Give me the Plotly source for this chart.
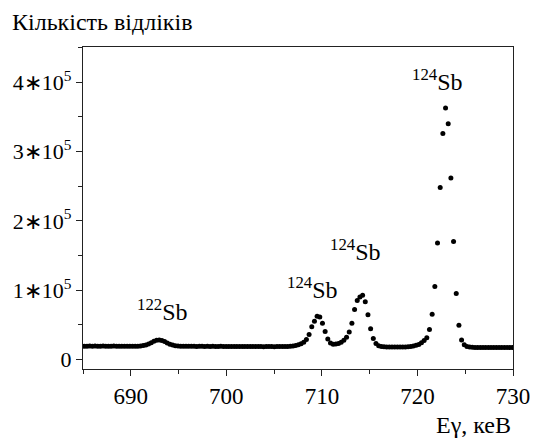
import plotly.graph_objects as go

energy_kev = [
    685.14, 685.42, 685.70, 685.98, 686.26, 686.54, 686.82, 687.10, 687.38, 687.66,
    687.94, 688.22, 688.50, 688.78, 689.06, 689.34, 689.62, 689.90, 690.18, 690.46,
    690.74, 691.02, 691.30, 691.58, 691.86, 692.14, 692.42, 692.70, 692.98, 693.26,
    693.54, 693.82, 694.10, 694.38, 694.66, 694.94, 695.22, 695.50, 695.78, 696.06,
    696.34, 696.62, 696.90, 697.18, 697.46, 697.74, 698.02, 698.30, 698.58, 698.86,
    699.14, 699.42, 699.70, 699.98, 700.26, 700.54, 700.82, 701.10, 701.38, 701.66,
    701.94, 702.22, 702.50, 702.78, 703.06, 703.34, 703.62, 703.90, 704.18, 704.46,
    704.74, 705.02, 705.30, 705.58, 705.86, 706.14, 706.42, 706.70, 706.98, 707.26,
    707.54, 707.82, 708.10, 708.38, 708.66, 708.94, 709.22, 709.50, 709.78, 710.06,
    710.34, 710.62, 710.90, 711.18, 711.46, 711.74, 712.02, 712.30, 712.58, 712.86,
    713.14, 713.42, 713.70, 713.98, 714.26, 714.54, 714.82, 715.10, 715.38, 715.66,
    715.94, 716.22, 716.50, 716.78, 717.06, 717.34, 717.62, 717.90, 718.18, 718.46,
    718.74, 719.02, 719.30, 719.58, 719.86, 720.14, 720.42, 720.70, 720.98, 721.26,
    721.54, 721.82, 722.10, 722.38, 722.66, 722.94, 723.22, 723.50, 723.78, 724.06,
    724.34, 724.62, 724.90, 725.18, 725.46, 725.74, 726.02, 726.30, 726.58, 726.86,
    727.14, 727.42, 727.70, 727.98, 728.26, 728.54, 728.82, 729.10, 729.38, 729.66,
    729.94,
]

counts = [
    19000, 18900, 19100, 18950, 19050, 18900, 19000, 19100, 18850, 19000,
    18950, 19050, 18900, 19000, 18950, 18850, 19000, 18900, 18950, 19000,
    19000, 19300, 19800, 20800, 22200, 24000, 26000, 27400, 27800, 27100,
    25600, 23700, 21900, 20500, 19600, 19100, 18900, 18800, 18850, 18700,
    18800, 18750, 18650, 18800, 18700, 18600, 18750, 18650, 18700, 18600,
    18550, 18700, 18600, 18500, 18650, 18550, 18450, 18600, 18500, 18400,
    18550, 18450, 18500, 18400, 18350, 18500, 18400, 18300, 18450, 18350,
    18400, 18300, 18350, 18450, 18400, 18500, 18600, 18800, 19200, 19800,
    21000, 22500, 24500, 28500, 36000, 47000, 55000, 62000, 61000, 52000,
    40000, 29500, 23500, 21700, 22000, 23000, 24500, 27500, 32000, 39500,
    52000, 72000, 85000, 90000, 92500, 83000, 64500, 44000, 30000, 22700,
    19500, 18500, 18100, 17900, 17800, 17700, 17750, 17650, 17700, 17800,
    17900, 18100, 18500, 19200, 20200, 21500, 24000, 27000, 31000, 43000,
    65000, 105000, 168000, 248000, 326000, 363000, 340000, 262000, 170000, 95000,
    49000, 28000, 21000, 18500, 17600, 17300, 17200, 17100, 17200, 17050,
    17100, 17000, 17100, 16950, 17000, 17050, 16900, 17000, 16950, 16900,
    17000,
]

peak_labels = ["<sup>122</sup>Sb", "<sup>124</sup>Sb", "<sup>124</sup>Sb", "<sup>124</sup>Sb"]
peak_label_x = [693.3, 709.0, 713.5, 722.1]
peak_label_y = [71000, 103000, 158000, 403000]

x_tick_vals = [690, 700, 710, 720, 730]
x_tick_text = ["690", "700", "710", "720", "730"]
y_tick_vals = [0, 100000, 200000, 300000, 400000]
y_tick_text = ["0", "1∗10<sup>5</sup>", "2∗10<sup>5</sup>", "3∗10<sup>5</sup>", "4∗10<sup>5</sup>"]

x_title = "Eγ, кеВ"
y_title = "Кількість відліків"

FONT = "Liberation Serif"

fig = go.Figure()
fig.add_trace(go.Scatter(
    x=energy_kev, y=counts, mode="markers",
    marker=dict(color="black", size=5, line=dict(width=0)),
    showlegend=False, hoverinfo="x+y",
))

for txt, xx, yy in zip(peak_labels, peak_label_x, peak_label_y):
    fig.add_annotation(x=xx, y=yy, text=txt, showarrow=False,
                       font=dict(family=FONT, size=24, color="black"),
                       xanchor="center", yanchor="middle")

fig.add_annotation(xref="paper", yref="paper", x=1.0, y=-0.174, text=x_title,
                   showarrow=False, xanchor="right", yanchor="middle",
                   font=dict(family=FONT, size=24, color="black"))
fig.add_annotation(xref="paper", yref="paper", x=-0.17, y=1.078, text=y_title,
                   showarrow=False, xanchor="left", yanchor="middle",
                   font=dict(family=FONT, size=24, color="black"))

axis_common = dict(
    showgrid=False, zeroline=False, showline=True, linecolor="#222", linewidth=1.3,
    mirror=True, ticks="outside", ticklen=6, tickwidth=1.2, tickcolor="#222",
    tickfont=dict(family=FONT, size=23, color="black"),
)

fig.update_xaxes(range=[685, 730], tickmode="array", tickvals=x_tick_vals, ticktext=x_tick_text,
                 minor=dict(dtick=5, tick0=685, ticks="outside", ticklen=4, tickwidth=1.2, tickcolor="#222"),
                 **axis_common)
fig.update_yaxes(range=[-14000, 451000], tickmode="array", tickvals=y_tick_vals, ticktext=y_tick_text,
                 minor=dict(dtick=50000, tick0=0, ticks="outside", ticklen=4, tickwidth=1.2, tickcolor="#222"),
                 **axis_common)
fig.update_yaxes(tickfont=dict(family=FONT, size=22, color="black"))

fig.update_layout(
    width=542, height=439,
    margin=dict(l=83, r=18, t=47, b=70),
    plot_bgcolor="white", paper_bgcolor="white",
    font=dict(family=FONT, color="black"),
)

fig.write_html("out.html", config={"displayModeBar": False},
               post_script="document.body.style.margin='0';")
